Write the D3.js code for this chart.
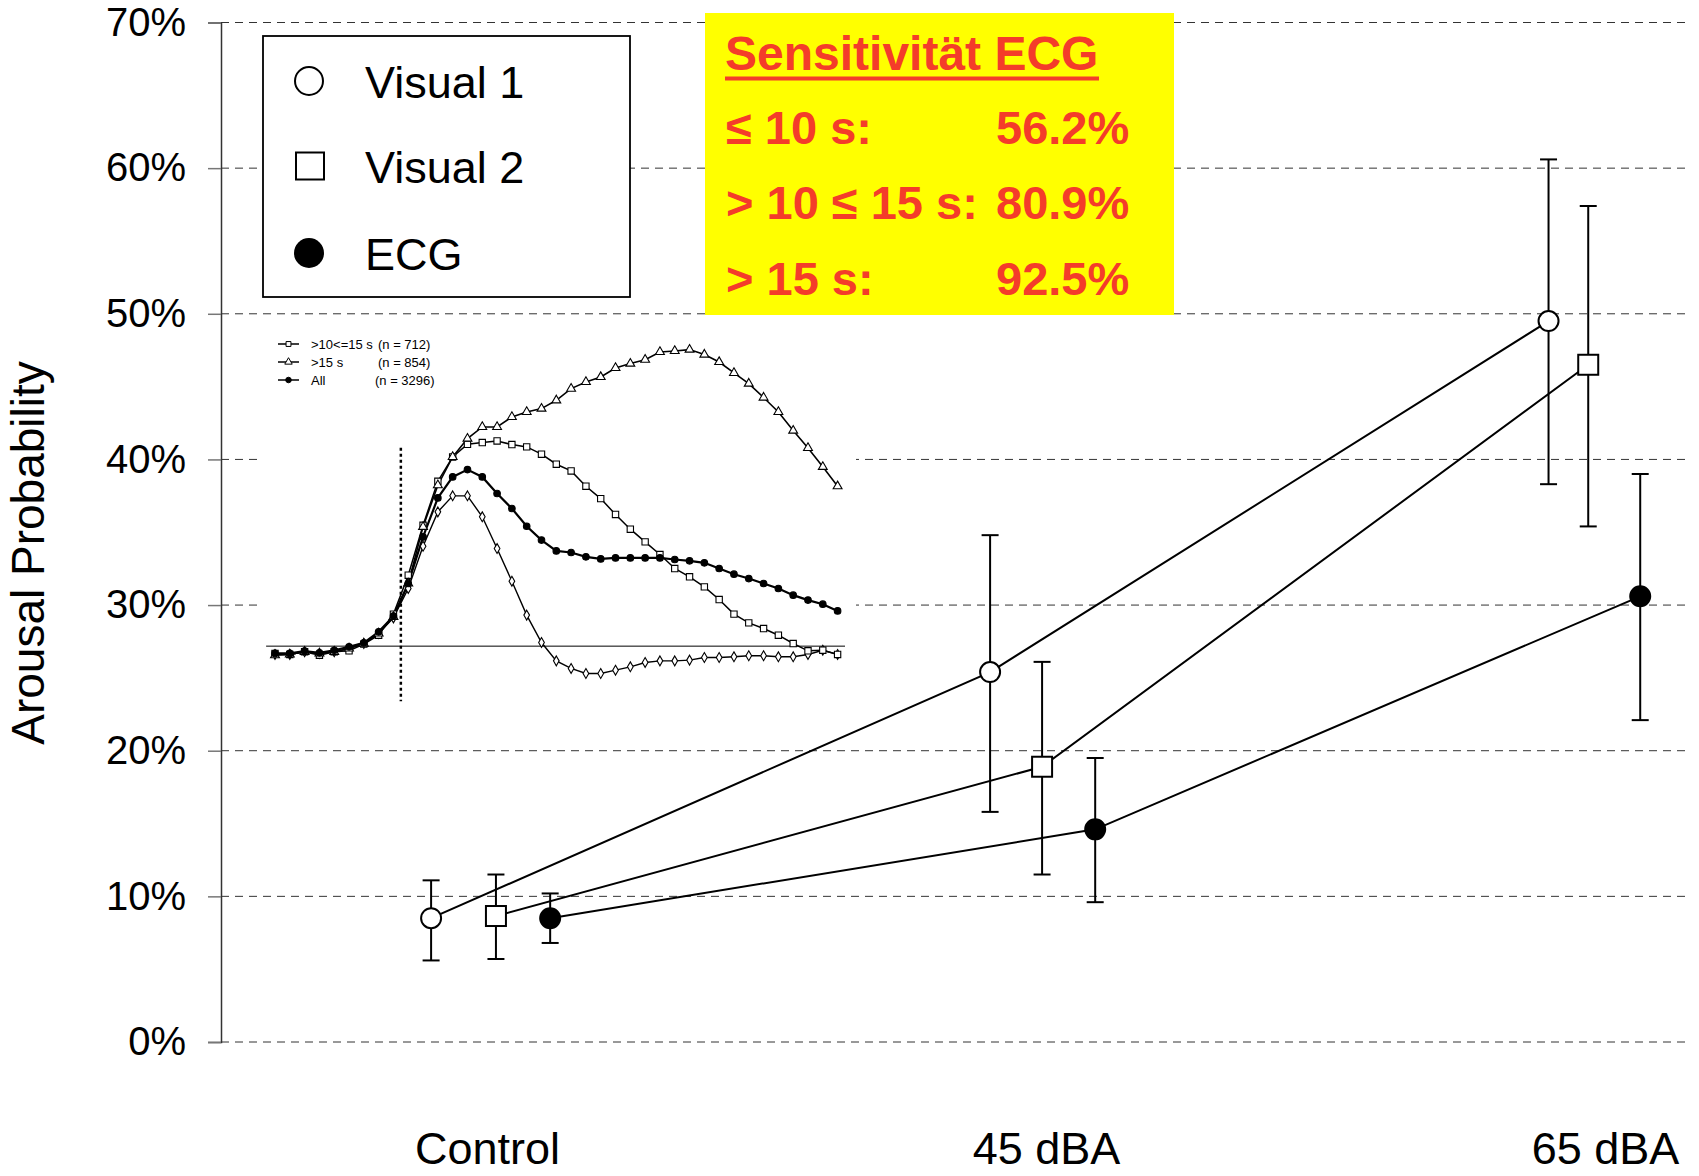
<!DOCTYPE html>
<html>
<head>
<meta charset="utf-8">
<title>Arousal Probability</title>
<script src="https://d3js.org/d3.v7.min.js"></script>
<style>
  body { margin: 0; background: #fff; }
  text { font-family: "Liberation Sans", Arial, sans-serif; }
</style>
</head>
<body>
<div id="chart"></div>
<script>
// main chart data
var categories = ["Control", "45 dBA", "65 dBA"];
var seriesNames = ["Visual 1", "Visual 2", "ECG"];

// x position of each marker in category units (groups are slightly staggered)
var visual1Pos = [-0.100, 0.900, 1.899];
var visual2Pos = [0.016, 0.993, 1.970];
var ecgPos     = [0.113, 1.088, 2.063];

var visual1      = [0.085, 0.254, 0.495];
var visual1Upper = [0.111, 0.348, 0.606];
var visual1Lower = [0.056, 0.158, 0.383];

var visual2      = [0.0865, 0.189, 0.465];
var visual2Upper = [0.115, 0.261, 0.574];
var visual2Lower = [0.057, 0.115, 0.354];

var ecg      = [0.085, 0.146, 0.306];
var ecgUpper = [0.102, 0.195, 0.390];
var ecgLower = [0.068, 0.096, 0.221];

var yTicks = [0, 0.1, 0.2, 0.3, 0.4, 0.5, 0.6, 0.7];

// yellow box
var sensTitle  = "Sensitivität ECG";
var sensLabels = ["\u2264 10 s:", "> 10 \u2264 15 s:", "> 15 s:"];
var sensValues = [56.2, 80.9, 92.5];

// inset (time course, arousal probability in %), 39 samples
var insetLe10 = [26.61,26.61,26.79,26.68,26.79,27.02,27.36,28.05,29.12,31.14,34.04,36.40,37.50,37.50,36.06,33.88,31.64,29.31,27.43,26.17,25.65,25.30,25.30,25.53,25.76,26.06,26.17,26.17,26.22,26.40,26.40,26.45,26.52,26.52,26.45,26.45,26.61,26.90,26.61];
var insetMid  = [26.68,26.61,26.79,26.56,26.79,26.86,27.32,27.93,29.38,32.05,35.48,38.50,40.17,41.04,41.16,41.27,41.02,40.86,40.36,39.67,39.21,38.16,37.31,36.22,35.21,34.34,33.47,32.51,31.94,31.25,30.38,29.38,28.78,28.39,27.93,27.36,26.86,26.90,26.61];
var insetGt15 = [26.56,26.61,26.79,26.68,26.79,27.02,27.36,28.05,29.19,31.48,35.37,38.23,40.17,41.43,42.23,42.23,42.92,43.26,43.49,44.06,44.86,45.32,45.66,46.28,46.58,46.85,47.38,47.45,47.54,47.20,46.69,45.94,45.21,44.25,43.26,41.98,40.79,39.49,38.16];
var insetAll  = [26.68,26.68,26.84,26.72,26.90,27.13,27.41,28.16,29.24,31.48,34.68,37.36,38.80,39.30,38.80,37.66,36.63,35.41,34.46,33.72,33.61,33.31,33.17,33.24,33.24,33.24,33.24,33.13,33.04,32.90,32.51,32.12,31.82,31.48,31.14,30.68,30.34,30.06,29.60];
var insetBaseline = 27.18;
var insetOnset = 8.5;
var insetLegendLabels = [">10<=15 s", ">15 s", "All"];
var insetLegendCounts = ["(n = 712)", "(n = 854)", "(n = 3296)"];

var width = 1699, height = 1176;
var axisX = 221;

var svg = d3.select("#chart")
  .append("svg")
  .attr("width", width)
  .attr("height", height)
  .style("background-color", "#fff")
;

var y = d3.scaleLinear().domain([0, 0.7]).range([1042, 22.5]);
var x = d3.scaleLinear().domain([0, 2]).range([487, 1605]);

// gridlines
svg.append("g")
  .selectAll("line").data(yTicks).enter().append("line")
  .attr("x1", axisX).attr("x2", 1690)
  .attr("y1", function(d){ return y(d); })
  .attr("y2", function(d){ return y(d); })
  .attr("stroke", "#333")
  .attr("stroke-width", 1)
  .attr("stroke-dasharray", "8,6")
;

// y axis
var yAxis = svg.append("g")
  .attr("transform", "translate(" + axisX + ",0)")
  .call(d3.axisLeft(y).tickValues(yTicks).tickFormat(d3.format(".0%")).tickSize(13).tickPadding(22))
;
yAxis.select(".domain").attr("stroke", "#333").attr("stroke-width", 1.5);
yAxis.selectAll(".tick line").attr("stroke", "#777").attr("stroke-width", 1.5);
yAxis.selectAll(".tick text")
  .style("font-family", "'Liberation Sans', Arial, sans-serif")
  .style("font-size", "40px")
  .attr("fill", "#000")
;

svg.append("text")
  .attr("transform", "translate(44,553) rotate(-90)")
  .attr("text-anchor", "middle")
  .style("font-size", "46px")
  .text("Arousal Probability")
;

// category labels
var xAxis = svg.append("g")
  .attr("transform", "translate(0,1164)")
  .call(d3.axisBottom(x).tickValues([0, 1, 2]).tickFormat(function(d){ return categories[d]; }).tickSize(0).tickPadding(0))
;
xAxis.select(".domain").remove();
xAxis.selectAll(".tick text")
  .attr("dy", 0)
  .attr("y", 0)
  .style("font-family", "'Liberation Sans', Arial, sans-serif")
  .style("font-size", "45px")
  .attr("fill", "#000")
;

// ---- inset ----
var inset = svg.append("g");
inset.append("rect")
  .attr("x", 263).attr("y", 318)
  .attr("width", 593).attr("height", 387)
  .attr("fill", "#fff")
;
var ix = d3.scaleLinear().domain([0, 38]).range([275, 837.6]);
var iy = d3.scaleLinear().domain([0, 70]).range([1042, 22.5]);

inset.append("line")
  .attr("x1", ix(-0.6)).attr("x2", ix(38.5))
  .attr("y1", iy(insetBaseline)).attr("y2", iy(insetBaseline))
  .attr("stroke", "#000").attr("stroke-width", 1)
;
inset.append("line")
  .attr("x1", ix(insetOnset)).attr("x2", ix(insetOnset))
  .attr("y1", iy(40.8)).attr("y2", iy(23.4))
  .attr("stroke", "#000").attr("stroke-width", 2.5)
  .attr("stroke-dasharray", "3,3")
;

var insetSeries = [
  {values: insetLe10, symbol: d3.symbolDiamond, size: 28, fill: "#fff", lw: 1.4},
  {values: insetMid, symbol: d3.symbolSquare, size: 40, fill: "#fff", lw: 1.5},
  {values: insetGt15, symbol: d3.symbolTriangle, size: 34, fill: "#fff", lw: 1.6},
  {values: insetAll, symbol: d3.symbolCircle, size: 34, fill: "#000", lw: 2.2}
];
var insetLine = d3.line()
  .x(function(d, i){ return ix(i); })
  .y(function(d){ return iy(d); })
;
insetSeries.forEach(function(s){
  inset.append("path")
    .attr("d", insetLine(s.values))
    .attr("fill", "none")
    .attr("stroke", "#000")
    .attr("stroke-width", s.lw)
  ;
});
insetSeries.forEach(function(s){
  inset.append("g")
    .selectAll("path").data(s.values).enter().append("path")
    .attr("d", d3.symbol().type(s.symbol).size(s.size))
    .attr("transform", function(d, i){ return "translate(" + ix(i) + "," + iy(d) + ")"; })
    .attr("fill", s.fill)
    .attr("stroke", "#000")
    .attr("stroke-width", 1.1)
  ;
});

// inset legend
var insetLegendSymbols = [d3.symbolSquare, d3.symbolTriangle, d3.symbolCircle];
var insetLegendFill = ["#fff", "#fff", "#000"];
var il = inset.append("g")
  .selectAll("g").data(insetLegendLabels).enter().append("g")
  .attr("transform", function(d, i){ return "translate(0," + (344 + i * 18) + ")"; })
;
il.append("line")
  .attr("x1", 278).attr("x2", 299)
  .attr("stroke", "#000").attr("stroke-width", 1.5)
;
il.append("path")
  .attr("d", function(d, i){ return d3.symbol().type(insetLegendSymbols[i]).size(24)(); })
  .attr("transform", "translate(288.5,0)")
  .attr("fill", function(d, i){ return insetLegendFill[i]; })
  .attr("stroke", "#000").attr("stroke-width", 1)
;
il.append("text")
  .attr("x", 311).attr("y", 5)
  .style("font-size", "13px")
  .text(function(d){ return d; })
;
il.append("text")
  .attr("x", function(d, i){ return i == 2 ? 375 : 378; }).attr("y", 5)
  .style("font-size", "13px")
  .text(function(d, i){ return insetLegendCounts[i]; })
;

// ---- legend ----
var legend = svg.append("g");
legend.append("rect")
  .attr("x", 263).attr("y", 36)
  .attr("width", 367).attr("height", 261)
  .attr("fill", "#fff")
  .attr("stroke", "#000")
  .attr("stroke-width", 1.8)
;
var legendRowY = [81, 166, 253];
legend.append("circle")
  .attr("cx", 309).attr("cy", legendRowY[0]).attr("r", 14)
  .attr("fill", "#fff").attr("stroke", "#000").attr("stroke-width", 2)
;
legend.append("rect")
  .attr("x", 296).attr("y", legendRowY[1] - 13.5)
  .attr("width", 28).attr("height", 27)
  .attr("fill", "#fff").attr("stroke", "#000").attr("stroke-width", 2)
;
legend.append("circle")
  .attr("cx", 309).attr("cy", legendRowY[2]).attr("r", 15)
  .attr("fill", "#000")
;
legend.selectAll("text.lg").data(seriesNames).enter().append("text")
  .attr("class", "lg")
  .attr("x", 365)
  .attr("y", function(d, i){ return legendRowY[i] + 17; })
  .style("font-size", "45px")
  .text(function(d){ return d; })
;

// ---- yellow box ----
var sens = svg.append("g");
sens.append("rect")
  .attr("x", 705).attr("y", 13)
  .attr("width", 469).attr("height", 302)
  .attr("fill", "#ffff00")
;
sens.append("text")
  .attr("x", 725).attr("y", 70)
  .attr("fill", "#f43c2a")
  .style("font-size", "48px")
  .style("font-weight", "bold")
  .text(sensTitle)
;
sens.append("rect")
  .attr("x", 725).attr("y", 76.5)
  .attr("width", 374).attr("height", 4)
  .attr("fill", "#f43c2a")
;
var rowY = [144, 219, 295];
sens.selectAll("text.sl").data(sensLabels).enter().append("text")
  .attr("class", "sl")
  .attr("x", 726)
  .attr("y", function(d, i){ return rowY[i]; })
  .attr("fill", "#f43c2a")
  .style("font-size", "47px")
  .style("font-weight", "bold")
  .text(function(d){ return d; })
;
sens.selectAll("text.sv").data(sensValues).enter().append("text")
  .attr("class", "sv")
  .attr("x", 996)
  .attr("y", function(d, i){ return rowY[i]; })
  .attr("fill", "#f43c2a")
  .style("font-size", "47px")
  .style("font-weight", "bold")
  .text(function(d){ return d.toFixed(1) + "%"; })
;

// ---- main series ----
var series = [
  {pos: visual1Pos, val: visual1, hi: visual1Upper, lo: visual1Lower, shape: "circle", fill: "#fff"},
  {pos: visual2Pos, val: visual2, hi: visual2Upper, lo: visual2Lower, shape: "square", fill: "#fff"},
  {pos: ecgPos, val: ecg, hi: ecgUpper, lo: ecgLower, shape: "circle", fill: "#000"}
];

var line = d3.line()
  .x(function(d){ return x(d[0]); })
  .y(function(d){ return y(d[1]); })
;

series.forEach(function(s){
  var pts = s.val.map(function(v, i){ return [s.pos[i], v]; });
  svg.append("path")
    .attr("d", line(pts))
    .attr("fill", "none")
    .attr("stroke", "#000")
    .attr("stroke-width", 2)
  ;
});

series.forEach(function(s){
  var g = svg.append("g");
  var eb = g.selectAll("g").data(s.val).enter().append("g");
  eb.append("line")
    .attr("x1", function(d, i){ return x(s.pos[i]); })
    .attr("x2", function(d, i){ return x(s.pos[i]); })
    .attr("y1", function(d, i){ return y(s.hi[i]); })
    .attr("y2", function(d, i){ return y(s.lo[i]); })
    .attr("stroke", "#000").attr("stroke-width", 2)
  ;
  eb.append("line")
    .attr("x1", function(d, i){ return x(s.pos[i]) - 8.5; })
    .attr("x2", function(d, i){ return x(s.pos[i]) + 8.5; })
    .attr("y1", function(d, i){ return y(s.hi[i]); })
    .attr("y2", function(d, i){ return y(s.hi[i]); })
    .attr("stroke", "#000").attr("stroke-width", 2)
  ;
  eb.append("line")
    .attr("x1", function(d, i){ return x(s.pos[i]) - 8.5; })
    .attr("x2", function(d, i){ return x(s.pos[i]) + 8.5; })
    .attr("y1", function(d, i){ return y(s.lo[i]); })
    .attr("y2", function(d, i){ return y(s.lo[i]); })
    .attr("stroke", "#000").attr("stroke-width", 2)
  ;
});

series.forEach(function(s){
  var g = svg.append("g");
  if (s.shape == "square") {
    g.selectAll("rect").data(s.val).enter().append("rect")
      .attr("x", function(d, i){ return x(s.pos[i]) - 10; })
      .attr("y", function(d){ return y(d) - 10; })
      .attr("width", 20).attr("height", 20)
      .attr("fill", s.fill).attr("stroke", "#000").attr("stroke-width", 2)
    ;
  } else {
    g.selectAll("circle").data(s.val).enter().append("circle")
      .attr("cx", function(d, i){ return x(s.pos[i]); })
      .attr("cy", function(d){ return y(d); })
      .attr("r", 10)
      .attr("fill", s.fill).attr("stroke", "#000").attr("stroke-width", 2)
    ;
  }
});
</script>
</body>
</html>
